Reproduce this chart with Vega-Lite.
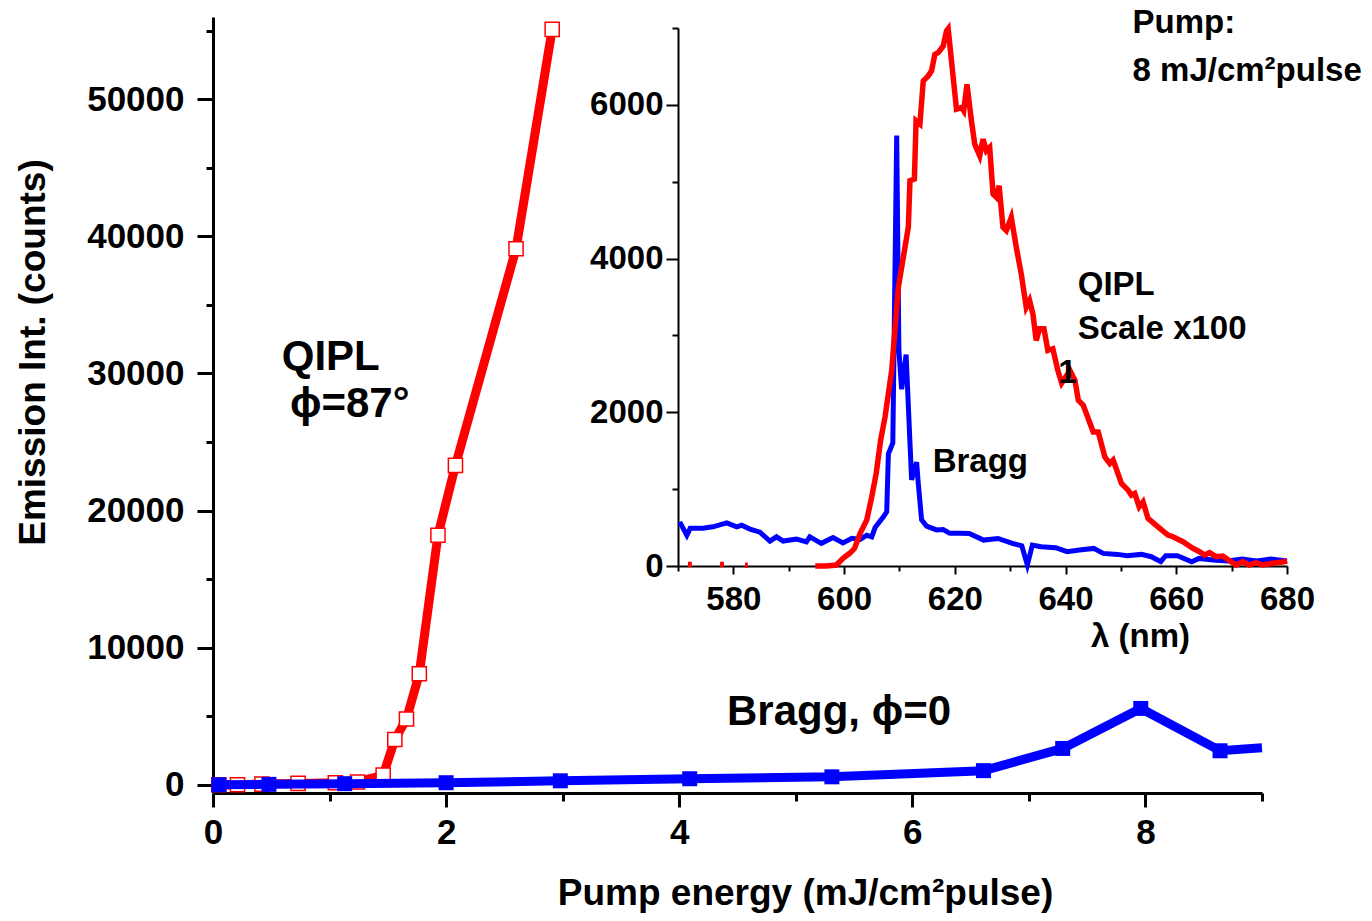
{
  "$schema": "https://vega.github.io/schema/vega-lite/v6.json",
  "width": 1049,
  "height": 776,
  "autosize": {"type": "none"},
  "padding": {"left": 213, "top": 17, "right": 110, "bottom": 128},
  "background": "white",
  "config": {
    "view": {"stroke": null},
    "font": "Liberation Sans",
    "axis": {
      "grid": false,
      "labelFont": "Liberation Sans",
      "labelFontWeight": "bold",
      "labelColor": "black",
      "titleFont": "Liberation Sans",
      "titleFontWeight": "bold",
      "titleColor": "black",
      "domainColor": "black",
      "tickColor": "black",
      "labelOverlap": false,
      "labelFlush": false,
      "labelBound": false
    },
    "text": {"font": "Liberation Sans", "fontWeight": "bold", "color": "black"}
  },
  "datasets": {
    "qipl": [
      {"E": 0.05, "I": 0}, {"E": 0.21, "I": 0}, {"E": 0.42, "I": 50}, {"E": 0.73, "I": 100},
      {"E": 1.05, "I": 150}, {"E": 1.24, "I": 200}, {"E": 1.46, "I": 700}, {"E": 1.56, "I": 3300},
      {"E": 1.66, "I": 4800}, {"E": 1.77, "I": 8100}, {"E": 1.93, "I": 18200}, {"E": 2.08, "I": 23300},
      {"E": 2.60, "I": 39100}, {"E": 2.91, "I": 55100}
    ],
    "bragg": [
      {"E": 0.05, "I": 0}, {"E": 0.48, "I": 30}, {"E": 1.13, "I": 80}, {"E": 2.0, "I": 150},
      {"E": 2.98, "I": 290}, {"E": 4.09, "I": 440}, {"E": 5.31, "I": 580}, {"E": 6.61, "I": 1030},
      {"E": 7.29, "I": 2650}, {"E": 7.96, "I": 5570}, {"E": 8.64, "I": 2480}, {"E": 9.0, "I": 2700}
    ],
    "spec_bragg": [
      {"wl": 570.3, "v": 575}, {"wl": 571.6, "v": 400}, {"wl": 572.2, "v": 490}, {"wl": 574.5, "v": 490},
      {"wl": 576.3, "v": 510}, {"wl": 578.8, "v": 560}, {"wl": 580.6, "v": 510}, {"wl": 581.5, "v": 530},
      {"wl": 583.0, "v": 480}, {"wl": 584.8, "v": 440}, {"wl": 586.6, "v": 325}, {"wl": 587.8, "v": 380},
      {"wl": 589.0, "v": 325}, {"wl": 591.4, "v": 350}, {"wl": 593.2, "v": 315}, {"wl": 593.8, "v": 380},
      {"wl": 595.0, "v": 330}, {"wl": 595.9, "v": 295}, {"wl": 598.0, "v": 370}, {"wl": 599.8, "v": 300},
      {"wl": 601.4, "v": 360}, {"wl": 602.9, "v": 345}, {"wl": 604.1, "v": 400}, {"wl": 605.0, "v": 380},
      {"wl": 605.6, "v": 500}, {"wl": 607.1, "v": 640}, {"wl": 607.7, "v": 705}, {"wl": 608.0, "v": 1460},
      {"wl": 608.8, "v": 1600}, {"wl": 609.5, "v": 5600}, {"wl": 609.9, "v": 2800}, {"wl": 610.4, "v": 2300},
      {"wl": 611.2, "v": 2750}, {"wl": 611.9, "v": 1600}, {"wl": 612.2, "v": 1120}, {"wl": 613.1, "v": 1350},
      {"wl": 613.4, "v": 1075}, {"wl": 614.0, "v": 600}, {"wl": 614.9, "v": 520}, {"wl": 616.7, "v": 470},
      {"wl": 617.9, "v": 475}, {"wl": 619.1, "v": 425}, {"wl": 620.9, "v": 425}, {"wl": 622.6, "v": 423},
      {"wl": 625.2, "v": 337}, {"wl": 627.8, "v": 358}, {"wl": 630.4, "v": 294}, {"wl": 632.1, "v": 263},
      {"wl": 633.1, "v": 13}, {"wl": 634.0, "v": 272}, {"wl": 635.6, "v": 250}, {"wl": 638.2, "v": 238},
      {"wl": 640.3, "v": 186}, {"wl": 642.5, "v": 207}, {"wl": 645.1, "v": 229}, {"wl": 646.8, "v": 164},
      {"wl": 649.4, "v": 151}, {"wl": 651.1, "v": 134}, {"wl": 653.7, "v": 151}, {"wl": 655.5, "v": 121},
      {"wl": 657.2, "v": 56}, {"wl": 658.1, "v": 134}, {"wl": 660.2, "v": 134}, {"wl": 662.8, "v": 56},
      {"wl": 664.1, "v": 99}, {"wl": 666.7, "v": 78}, {"wl": 669.3, "v": 65}, {"wl": 671.9, "v": 91},
      {"wl": 674.5, "v": 65}, {"wl": 677.1, "v": 91}, {"wl": 680.0, "v": 65}
    ],
    "spec_qipl": [
      {"part": "a", "wl": 571.8, "v": 20}, {"part": "a", "wl": 572.5, "v": 20},
      {"part": "b", "wl": 577.6, "v": 20}, {"part": "b", "wl": 578.3, "v": 20},
      {"part": "c", "wl": 582.1, "v": 10}, {"part": "c", "wl": 582.6, "v": 10},
      {"part": "m", "wl": 594.8, "v": 0}, {"part": "m", "wl": 596.8, "v": 0}, {"part": "m", "wl": 598.6, "v": 13},
      {"part": "m", "wl": 599.8, "v": 100}, {"part": "m", "wl": 601.0, "v": 165}, {"part": "m", "wl": 601.9, "v": 230},
      {"part": "m", "wl": 602.9, "v": 425}, {"part": "m", "wl": 604.1, "v": 600}, {"part": "m", "wl": 605.0, "v": 900},
      {"part": "m", "wl": 605.8, "v": 1205}, {"part": "m", "wl": 606.6, "v": 1636}, {"part": "m", "wl": 607.4, "v": 1940},
      {"part": "m", "wl": 608.6, "v": 2545}, {"part": "m", "wl": 609.8, "v": 3627}, {"part": "m", "wl": 611.0, "v": 4147},
      {"part": "m", "wl": 611.6, "v": 4407}, {"part": "m", "wl": 611.9, "v": 5013}, {"part": "m", "wl": 612.7, "v": 5035},
      {"part": "m", "wl": 613.0, "v": 5792}, {"part": "m", "wl": 613.7, "v": 5750}, {"part": "m", "wl": 614.3, "v": 6312},
      {"part": "m", "wl": 615.2, "v": 6377}, {"part": "m", "wl": 615.8, "v": 6442}, {"part": "m", "wl": 616.4, "v": 6658},
      {"part": "m", "wl": 617.0, "v": 6680}, {"part": "m", "wl": 617.9, "v": 6766}, {"part": "m", "wl": 618.5, "v": 6961},
      {"part": "m", "wl": 618.8, "v": 6990}, {"part": "m", "wl": 619.4, "v": 6571}, {"part": "m", "wl": 620.3, "v": 5944},
      {"part": "m", "wl": 621.2, "v": 5965}, {"part": "m", "wl": 621.6, "v": 5922}, {"part": "m", "wl": 622.2, "v": 6268},
      {"part": "m", "wl": 623.0, "v": 5792}, {"part": "m", "wl": 623.6, "v": 5489}, {"part": "m", "wl": 624.5, "v": 5338},
      {"part": "m", "wl": 625.1, "v": 5554}, {"part": "m", "wl": 625.7, "v": 5403}, {"part": "m", "wl": 626.3, "v": 5446},
      {"part": "m", "wl": 626.9, "v": 4840}, {"part": "m", "wl": 627.5, "v": 4797}, {"part": "m", "wl": 628.0, "v": 4948},
      {"part": "m", "wl": 628.7, "v": 4407}, {"part": "m", "wl": 629.3, "v": 4364}, {"part": "m", "wl": 630.2, "v": 4537},
      {"part": "m", "wl": 631.1, "v": 4147}, {"part": "m", "wl": 632.0, "v": 3801}, {"part": "m", "wl": 632.9, "v": 3368},
      {"part": "m", "wl": 633.5, "v": 3455}, {"part": "m", "wl": 634.1, "v": 3282}, {"part": "m", "wl": 634.7, "v": 2935},
      {"part": "m", "wl": 635.3, "v": 3087}, {"part": "m", "wl": 636.1, "v": 3087}, {"part": "m", "wl": 636.8, "v": 2805},
      {"part": "m", "wl": 637.7, "v": 2827}, {"part": "m", "wl": 638.6, "v": 2545}, {"part": "m", "wl": 639.3, "v": 2380},
      {"part": "m", "wl": 640.8, "v": 2545}, {"part": "m", "wl": 641.7, "v": 2415}, {"part": "m", "wl": 642.3, "v": 2156},
      {"part": "m", "wl": 643.2, "v": 2091}, {"part": "m", "wl": 645.0, "v": 1744}, {"part": "m", "wl": 645.9, "v": 1744},
      {"part": "m", "wl": 647.1, "v": 1419}, {"part": "m", "wl": 648.0, "v": 1333}, {"part": "m", "wl": 648.6, "v": 1377},
      {"part": "m", "wl": 650.1, "v": 1074}, {"part": "m", "wl": 651.3, "v": 987}, {"part": "m", "wl": 651.9, "v": 922},
      {"part": "m", "wl": 652.5, "v": 944}, {"part": "m", "wl": 653.3, "v": 770}, {"part": "m", "wl": 654.0, "v": 835},
      {"part": "m", "wl": 654.9, "v": 619}, {"part": "m", "wl": 656.7, "v": 510}, {"part": "m", "wl": 658.5, "v": 403},
      {"part": "m", "wl": 659.4, "v": 381}, {"part": "m", "wl": 661.2, "v": 316}, {"part": "m", "wl": 662.1, "v": 273},
      {"part": "m", "wl": 663.0, "v": 230}, {"part": "m", "wl": 664.2, "v": 186}, {"part": "m", "wl": 665.1, "v": 143},
      {"part": "m", "wl": 666.0, "v": 173}, {"part": "m", "wl": 667.2, "v": 121}, {"part": "m", "wl": 668.4, "v": 130},
      {"part": "m", "wl": 669.9, "v": 56}, {"part": "m", "wl": 670.8, "v": 13}, {"part": "m", "wl": 672.0, "v": 56},
      {"part": "m", "wl": 673.2, "v": 13}, {"part": "m", "wl": 674.4, "v": 43}, {"part": "m", "wl": 675.6, "v": 13},
      {"part": "m", "wl": 677.4, "v": 35}, {"part": "m", "wl": 679.5, "v": 56}, {"part": "m", "wl": 680.0, "v": 70}
    ],
    "notes_main": [
      {"t": "QIPL", "E": 0.59, "I": 31200},
      {"t": "ϕ=87°", "E": 0.66, "I": 27800},
      {"t": "Bragg, ϕ=0", "E": 4.41, "I": 5300}
    ],
    "notes_inset": [
      {"t": "Pump:", "wl": 652.1, "v": 7060},
      {"t": "8 mJ/cm²pulse", "wl": 652.1, "v": 6440},
      {"t": "QIPL", "wl": 642.2, "v": 3650},
      {"t": "Scale x100", "wl": 642.2, "v": 3080},
      {"t": "Bragg", "wl": 616.0, "v": 1350},
      {"t": "1", "wl": 638.7, "v": 2510}
    ]
  },
  "layer": [
    {
      "layer": [
        {
          "data": {"name": "qipl"},
          "mark": {"type": "line", "color": "#ff0000", "strokeWidth": 9},
          "encoding": {
            "x": {
              "field": "E", "type": "quantitative",
              "scale": {"domain": [0, 9], "nice": false, "zero": false},
              "axis": {
                "orient": "bottom",
                "values": [0, 1, 2, 3, 4, 5, 6, 7, 8, 9],
                "format": "d",
                "labelExpr": "datum.value % 2 === 0 ? datum.label : ''",
                "tickSize": {"condition": {"test": "datum.value % 2 === 0", "value": 14}, "value": 8},
                "tickWidth": 3, "domainWidth": 3,
                "labelFontSize": 35, "labelPadding": 8,
                "title": "Pump energy (mJ/cm²pulse)",
                "titleFontSize": 37, "titleX": 592, "titleY": 100, "titleBaseline": "middle"
              }
            },
            "y": {
              "field": "I", "type": "quantitative",
              "scale": {"domain": [-600, 56000], "nice": false, "zero": false},
              "axis": {
                "orient": "left",
                "values": [0, 5000, 10000, 15000, 20000, 25000, 30000, 35000, 40000, 45000, 50000, 55000],
                "format": "d",
                "labelExpr": "datum.value % 10000 === 0 ? datum.label : ''",
                "tickSize": {"condition": {"test": "datum.value % 10000 === 0", "value": 16}, "value": 7},
                "tickWidth": 3, "domainWidth": 3,
                "labelFontSize": 35, "labelPadding": 13,
                "title": "Emission Int. (counts)",
                "titleFontSize": 37, "titleX": -180, "titleY": 335, "titleBaseline": "middle"
              }
            }
          }
        },
        {
          "data": {"name": "qipl"},
          "mark": {"type": "point", "shape": "square", "filled": true, "fill": "white", "stroke": "#ff0000", "strokeWidth": 1.5, "size": 200, "opacity": 1},
          "encoding": {
            "x": {"field": "E", "type": "quantitative"},
            "y": {"field": "I", "type": "quantitative"}
          }
        },
        {
          "data": {"name": "bragg"},
          "mark": {"type": "line", "color": "#0000ff", "strokeWidth": 9},
          "encoding": {
            "x": {"field": "E", "type": "quantitative"},
            "y": {"field": "I", "type": "quantitative"}
          }
        },
        {
          "data": {"name": "bragg"},
          "transform": [{"filter": "datum.E < 9"}],
          "mark": {"type": "point", "shape": "square", "filled": true, "color": "#0000ff", "size": 225, "opacity": 1},
          "encoding": {
            "x": {"field": "E", "type": "quantitative"},
            "y": {"field": "I", "type": "quantitative"}
          }
        },
        {
          "data": {"name": "notes_main"},
          "mark": {"type": "text", "align": "left", "baseline": "middle", "fontSize": 42},
          "encoding": {
            "x": {"field": "E", "type": "quantitative"},
            "y": {"field": "I", "type": "quantitative"},
            "text": {"field": "t"}
          }
        }
      ]
    },
    {
      "layer": [
        {
          "data": {"name": "spec_bragg"},
          "mark": {"type": "line", "color": "#0000ff", "strokeWidth": 5},
          "encoding": {
            "x": {
              "field": "wl", "type": "quantitative",
              "scale": {"domain": [570, 680], "range": [465, 1074], "nice": false, "zero": false},
              "axis": {
                "orient": "bottom", "offset": -227,
                "values": [570, 580, 590, 600, 610, 620, 630, 640, 650, 660, 670, 680],
                "labelExpr": "datum.value % 20 === 0 ? datum.label : ''",
                "tickSize": {"condition": {"test": "datum.value % 20 === 0", "value": 8}, "value": 5},
                "tickWidth": 2, "domainWidth": 2,
                "labelFontSize": 33, "labelPadding": 9,
                "title": "λ (nm)",
                "titleFontSize": 33, "titleX": 927, "titleY": 70, "titleBaseline": "middle"
              }
            },
            "y": {
              "field": "v", "type": "quantitative",
              "scale": {"domain": [0, 7000], "range": [549, 11], "nice": false, "zero": false},
              "axis": {
                "orient": "left", "offset": -465,
                "values": [0, 1000, 2000, 3000, 4000, 5000, 6000, 7000],
                "format": "d",
                "labelExpr": "datum.value % 2000 === 0 ? datum.label : ''",
                "tickSize": {"condition": {"test": "datum.value % 2000 === 0", "value": 12}, "value": 6},
                "tickWidth": 2, "domainWidth": 2,
                "labelFontSize": 33, "labelPadding": 3,
                "title": null
              }
            }
          }
        },
        {
          "data": {"name": "spec_qipl"},
          "mark": {"type": "line", "color": "#ff0000", "strokeWidth": 5.5},
          "encoding": {
            "x": {"field": "wl", "type": "quantitative"},
            "y": {"field": "v", "type": "quantitative"},
            "detail": {"field": "part"}
          }
        },
        {
          "data": {"name": "notes_inset"},
          "mark": {"type": "text", "align": "left", "baseline": "middle", "fontSize": 33},
          "encoding": {
            "x": {"field": "wl", "type": "quantitative"},
            "y": {"field": "v", "type": "quantitative"},
            "text": {"field": "t"}
          }
        }
      ]
    }
  ],
  "resolve": {
    "scale": {"x": "independent", "y": "independent"},
    "axis": {"x": "independent", "y": "independent"}
  }
}
